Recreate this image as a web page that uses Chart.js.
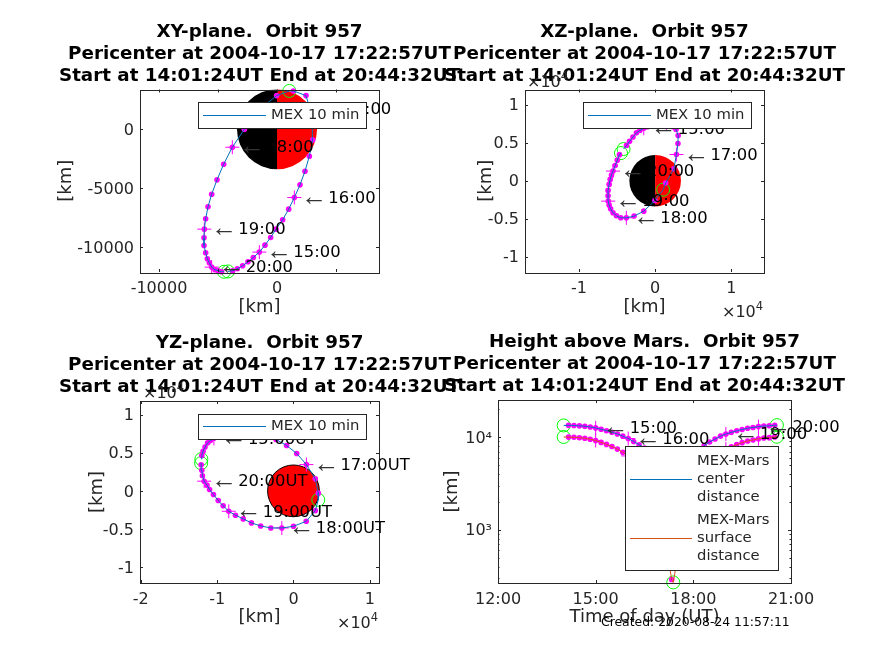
<!DOCTYPE html>
<html>
<head>
<meta charset="utf-8">
<title>MEX orbit 957</title>
<script src="https://cdn.jsdelivr.net/npm/chart.js@4"></script>
<style>
  html, body { margin: 0; padding: 0; background: #fff; }
  #page { position: relative; width: 874px; height: 655px; overflow: hidden; }
  canvas { position: absolute; }
</style>
</head>
<body>
<div id="page"></div>
<script>
// orbit samples (UT, km)
var orbitTimes = ['14:01','14:10','14:20','14:30','14:40','14:50','15:00','15:10','15:20','15:30','15:40','15:50',
  '16:00','16:10','16:20','16:30','16:40','16:50','17:00','17:10','17:20','17:23','17:30','17:40','17:50',
  '18:00','18:10','18:20','18:30','18:40','18:50','19:00','19:10','19:20','19:30','19:40','19:50',
  '20:00','20:10','20:20','20:30','20:34'];
var orbitX = [-4150,-3757,-3362,-2910,-2458,-2006,-1497,-1017,-537,-85,480,989,
  1469,1949,2373,2740,3023,2995,2797,2458,1384,1045,-28,-1497,-2769,
  -3786,-4520,-5085,-5537,-5848,-6046,-6159,-6187,-6187,-6046,-5904,-5735,
  -5537,-5255,-4972,-4690,-4490];
var orbitY = [-12063,-12006,-11837,-11582,-11243,-10876,-10424,-9831,-9181,-8475,-7684,-6780,
  -5791,-4718,-3559,-2288,-904,424,1695,2853,3249,3249,2853,1667,0,
  -1526,-2966,-4294,-5509,-6582,-7599,-8475,-9210,-9859,-10481,-10989,-11328,
  -11696,-11922,-12006,-12091,-12091];
var orbitZ = [4170,4650,5200,5750,6300,6600,6900,7100,7300,7500,7600,7650,
  7600,7400,7100,6750,5960,4900,3450,1580,-300,-1180,-2600,-4000,-4650,
  -4870,-4870,-4610,-4210,-3680,-3200,-2680,-1970,-1270,-480,180,750,
  1270,1990,2710,3430,3640];
var centerDist = [13387,13411,13358,13253,13120,12880,12591,12169,11743,11316,10818,10270,
  9666,8994,8288,7637,6743,5758,4753,4084,3680,3660,3860,4584,5410,
  6351,7274,8098,8872,9541,10224,10812,11269,11709,12113,12479,12719,
  13004,13178,13273,13450,13500];
var surfaceDist = [10050,10021,9968,9863,9730,9490,9201,8779,8353,7926,7428,6880,
  6276,5604,4898,4247,3353,2368,1363,694,290,270,470,1194,2020,
  2961,3884,4708,5482,6151,6834,7422,7879,8319,8723,9089,9329,
  9614,9788,9883,10060,10110];
var marsRadius = 3390;

// tick values and titles
var xyTicksX = [-10000,-5000,0,5000];
var xyLabelsX = ['-10000','','0',''];
var xyTicksY = [-10000,-5000,0];
var xzTicksX = [-10000,0,10000];
var xzTicksY = [-10000,-5000,0,5000,10000];
var yzTicksX = [-20000,-10000,0,10000];
var yzTicksY = [-10000,-5000,0,5000,10000];
var timeTicks = [12,15,18,21];
var heightTicks = [1000,10000];
var heightMinor = [300,400,500,600,700,800,900,2000,3000,4000,5000,6000,7000,8000,9000,20000];

var periLine = 'Pericenter at 2004-10-17 17:22:57UT';
var rangeLine = 'Start at 14:01:24UT End at 20:44:32UT';
var createdText = 'Created: 2020-08-24 11:57:11';

var FONT = '"DejaVu Sans", sans-serif';
var INK = '#262626';
var BLUE = '#0072BD';
var ORANGE = '#D95319';
var MAGENTA = '#FF00FF';
var LIME = '#00FF00';

function hourOf(t) {
  var p = t.split(':');
  return Number(p[0]) + Number(p[1]) / 60;
}
function minuteOf(t) {
  return Number(t.split(':')[1]);
}
function pairs(xs, ys, test) {
  var out = [];
  for (var i = 0; i < xs.length; i++) {
    if (test(orbitTimes[i])) out.push({ x: xs[i], y: ys[i] });
  }
  return out;
}
var all = function () { return true; };
var isDot = function (t) { return minuteOf(t) % 10 === 0; };
var isHour = function (t) { return minuteOf(t) === 0; };
var isEvent = function (t) { return minuteOf(t) % 10 !== 0; };

function orbitSets(xs, ys, color) {
  return [
    { data: pairs(xs, ys, all), showLine: true, borderColor: color, borderWidth: 1, pointRadius: 0 },
    { data: pairs(xs, ys, isDot), showLine: false, pointRadius: 2.8, backgroundColor: MAGENTA, borderWidth: 0, clip: false },
    { data: pairs(xs, ys, isHour), showLine: false, pointStyle: 'cross', pointRadius: 7, borderColor: MAGENTA, borderWidth: 1, clip: false },
    { data: pairs(xs, ys, isEvent), showLine: false, pointStyle: 'circle', pointRadius: 6.5, borderColor: LIME, backgroundColor: 'transparent', borderWidth: 1, clip: false }
  ];
}

function tenThousands(v) {
  return String(v / 10000);
}

function panelPlugin(cfg) {
  return {
    id: 'panel' + cfg.id,
    beforeDatasetsDraw: function (chart) {
      if (!cfg.mars) return;
      var ctx = chart.ctx, a = chart.chartArea;
      var sx = chart.scales.x, sy = chart.scales.y;
      var cx = sx.getPixelForValue(0), cy = sy.getPixelForValue(0);
      var r = sx.getPixelForValue(marsRadius) - cx;
      ctx.save();
      ctx.beginPath();
      ctx.rect(a.left, a.top, a.right - a.left, a.bottom - a.top);
      ctx.clip();
      if (cfg.mars === 'half') {
        ctx.fillStyle = '#000';
        ctx.beginPath();
        ctx.arc(cx, cy, r, Math.PI / 2, Math.PI * 1.5);
        ctx.fill();
        ctx.fillStyle = '#f00';
        ctx.beginPath();
        ctx.arc(cx, cy, r, -Math.PI / 2, Math.PI / 2);
        ctx.fill();
      } else {
        ctx.fillStyle = '#f00';
        ctx.strokeStyle = '#000';
        ctx.lineWidth = 1;
        ctx.beginPath();
        ctx.arc(cx, cy, r, 0, Math.PI * 2);
        ctx.fill();
        ctx.stroke();
      }
      ctx.restore();
    },
    afterDatasetsDraw: function (chart) {
      var ctx = chart.ctx, a = chart.chartArea;
      var sx = chart.scales.x, sy = chart.scales.y;
      ctx.save();

      // box and inward ticks on all four sides
      ctx.strokeStyle = INK;
      ctx.lineWidth = 1;
      ctx.strokeRect(Math.round(a.left) + 0.5, Math.round(a.top) + 0.5, Math.round(a.right - a.left), Math.round(a.bottom - a.top));
      function xTick(v, len) {
        var p = Math.round(sx.getPixelForValue(v)) + 0.5;
        ctx.beginPath();
        ctx.moveTo(p, a.bottom); ctx.lineTo(p, a.bottom - len);
        ctx.moveTo(p, a.top); ctx.lineTo(p, a.top + len);
        ctx.stroke();
      }
      function yTick(v, len) {
        var p = Math.round(sy.getPixelForValue(v)) + 0.5;
        ctx.beginPath();
        ctx.moveTo(a.left, p); ctx.lineTo(a.left + len, p);
        ctx.moveTo(a.right, p); ctx.lineTo(a.right - len, p);
        ctx.stroke();
      }
      cfg.xTicks.forEach(function (v) { xTick(v, 3); });
      cfg.yTicks.forEach(function (v) { yTick(v, 3); });
      (cfg.yMinor || []).forEach(function (v) { yTick(v, 1.5); });

      // hour labels: thin arrow, then the time
      ctx.textAlign = 'left';
      ctx.textBaseline = 'middle';
      var hourPts = pairs(cfg.xs, cfg.ys, isHour);
      var hourNames = orbitTimes.filter(isHour);
      hourPts.forEach(function (p, i) {
        var px = sx.getPixelForValue(p.x), py = sy.getPixelForValue(p.y);
        ctx.fillStyle = '#333';
        ctx.font = '26px "Liberation Sans", sans-serif';
        ctx.fillText('\u2190', px + 7, py);
        ctx.fillStyle = '#000';
        ctx.font = '16.4px ' + FONT;
        ctx.fillText(hourNames[i] + cfg.suffix, px + 34, py + 1);
      });

      // x10^4 exponents
      (cfg.exponents || []).forEach(function (e) {
        ctx.fillStyle = INK;
        ctx.font = '16px ' + FONT;
        ctx.textBaseline = 'alphabetic';
        ctx.fillText('\u00d710', e[0] - cfg.left, e[1] - cfg.top);
        var w = ctx.measureText('\u00d710').width;
        ctx.font = '11.5px ' + FONT;
        ctx.fillText('4', e[0] - cfg.left + w, e[1] - cfg.top - 7);
      });

      // legend box
      var L = cfg.legend;
      ctx.fillStyle = '#fff';
      ctx.fillRect(L.x - cfg.left, L.y - cfg.top, L.w, L.h);
      ctx.strokeStyle = INK;
      ctx.strokeRect(L.x - cfg.left + 0.5, L.y - cfg.top + 0.5, L.w, L.h);
      ctx.font = '14.8px ' + FONT;
      ctx.textBaseline = 'middle';
      L.entries.forEach(function (en) {
        ctx.strokeStyle = en.color;
        ctx.beginPath();
        ctx.moveTo(en.x1 - cfg.left, en.y - cfg.top + 0.5);
        ctx.lineTo(en.x2 - cfg.left, en.y - cfg.top + 0.5);
        ctx.stroke();
        ctx.fillStyle = INK;
        en.lines.forEach(function (s, k) {
          ctx.fillText(s, en.tx - cfg.left, en.y - cfg.top + (k - (en.lines.length - 1) / 2) * 18.3);
        });
      });

      if (cfg.created) {
        ctx.fillStyle = '#000';
        ctx.font = '12.4px ' + FONT;
        ctx.textBaseline = 'middle';
        ctx.fillText(createdText, cfg.created[0] - cfg.left, cfg.created[1] - cfg.top);
      }
      ctx.restore();
    }
  };
}

function axis(type, min, max, ticks, afterFit, labels, title, titleOffset, tickPad, labelShift) {
  return {
    type: type, min: min, max: max,
    grid: { display: false, drawTicks: false },
    border: { display: false },
    title: { display: true, text: title, color: INK, font: { family: FONT, size: 18 }, padding: { top: titleOffset, bottom: 0 } },
    ticks: { color: INK, font: { family: FONT, size: 16 }, padding: tickPad, labelOffset: labelShift, autoSkip: false, maxRotation: 0, minRotation: 0, callback: labels },
    afterBuildTicks: function (s) {
      s.ticks = ticks.map(function (v) { return { value: v }; });
    },
    afterFit: afterFit
  };
}

function makePanel(cfg) {
  var box = document.createElement('canvas');
  box.width = cfg.width;
  box.height = cfg.height;
  box.style.left = cfg.left + 'px';
  box.style.top = cfg.top + 'px';
  document.getElementById('page').appendChild(box);

  var half = 10.8;
  var yWidth = cfg.plot[0] - cfg.left;
  var rightWidth = cfg.left + cfg.width - cfg.plot[1];
  var xHeight = cfg.xTitleY + half - cfg.plot[3];
  var titleH = 68.5;

  new Chart(box, {
    type: 'scatter',
    data: { datasets: cfg.datasets },
    options: {
      responsive: false,
      animation: false,
      devicePixelRatio: 1,
      events: [],
      layout: {
        autoPadding: false,
        padding: {
          left: 0,
          right: 0,
          top: cfg.plot[2] - cfg.top - titleH,
          bottom: cfg.top + cfg.height - cfg.plot[3] - xHeight
        }
      },
      plugins: {
        legend: { display: false },
        tooltip: { enabled: false },
        title: {
          display: true,
          text: cfg.title,
          color: '#000',
          font: { family: FONT, size: 18.3, weight: 'bold', lineHeight: 22 / 18.3 },
          padding: { top: 0, bottom: 2.5 }
        }
      },
      scales: {
        x: axis(cfg.xType || 'linear', cfg.xMin, cfg.xMax, cfg.xTicks, function (s) { s.height = xHeight; }, cfg.xLabels, cfg.xTitle, 0, 7, 0),
        y: axis(cfg.yType || 'linear', cfg.yMin, cfg.yMax, cfg.yTicks.concat(cfg.yMinor || []), function (s) { s.width = yWidth; }, cfg.yLabels, cfg.yTitle, cfg.yTitleX - half - cfg.left, 6, 1.5),
        // empty scale that only holds the right margin, so the title stays centred on the canvas
        margin: {
          position: 'right', display: true, min: 0, max: 1,
          grid: { display: false, drawTicks: false },
          border: { display: false },
          ticks: { display: false },
          afterFit: function (s) { s.width = rightWidth; }
        }
      }
    },
    plugins: [panelPlugin(cfg)]
  });
}

makePanel({
  id: 1, left: 0, top: 0, width: 519, height: 327,
  plot: [140, 379, 89.5, 272], yTitleX: 66, xTitleY: 307,
  title: ['XY-plane.  Orbit 957', periLine, rangeLine],
  xMin: -11610, xMax: 8644, yMin: -12110, yMax: 3370,
  xTicks: xyTicksX, yTicks: xyTicksY,
  xLabels: function (v) { return xyLabelsX[xyTicksX.indexOf(v)]; },
  yLabels: function (v) { return String(v); },
  xTitle: '[km]', yTitle: '[km]',
  xs: orbitX, ys: orbitY, suffix: '', mars: 'half',
  datasets: orbitSets(orbitX, orbitY, BLUE),
  legend: { x: 198, y: 102, w: 168, h: 26, entries: [{ color: BLUE, x1: 203, x2: 266, tx: 271, y: 115, lines: ['MEX 10 min'] }] }
});

makePanel({
  id: 2, left: 415, top: 0, width: 459, height: 327,
  plot: [525, 764, 89.5, 272], yTitleX: 486, xTitleY: 307,
  title: ['XZ-plane.  Orbit 957', periLine, rangeLine],
  xMin: -17100, xMax: 14300, yMin: -12000, yMax: 12000,
  xTicks: xzTicksX, yTicks: xzTicksY,
  xLabels: tenThousands, yLabels: tenThousands,
  xTitle: '[km]', yTitle: '[km]',
  xs: orbitX, ys: orbitZ, suffix: '', mars: 'half',
  datasets: orbitSets(orbitX, orbitZ, BLUE),
  exponents: [[527, 87], [722, 317]],
  legend: { x: 583, y: 102, w: 168, h: 26, entries: [{ color: BLUE, x1: 588, x2: 651, tx: 656, y: 115, lines: ['MEX 10 min'] }] }
});

makePanel({
  id: 3, left: 0, top: 327, width: 519, height: 328,
  plot: [140, 379, 401, 583], yTitleX: 97, xTitleY: 617,
  title: ['YZ-plane.  Orbit 957', periLine, rangeLine],
  xMin: -20100, xMax: 11200, yMin: -12100, yMax: 11800,
  xTicks: yzTicksX, yTicks: yzTicksY,
  xLabels: tenThousands, yLabels: tenThousands,
  xTitle: '[km]', yTitle: '[km]',
  xs: orbitY, ys: orbitZ, suffix: 'UT', mars: 'full',
  datasets: orbitSets(orbitY, orbitZ, BLUE),
  exponents: [[143, 398], [337, 628]],
  legend: { x: 198, y: 414, w: 168, h: 25, entries: [{ color: BLUE, x1: 203, x2: 266, tx: 271, y: 426, lines: ['MEX 10 min'] }] }
});

var orbitHours = orbitTimes.map(hourOf);
makePanel({
  id: 4, left: 415, top: 327, width: 459, height: 328,
  plot: [498, 791, 400, 583], yTitleX: 452, xTitleY: 617,
  title: ['Height above Mars.  Orbit 957', periLine, rangeLine],
  xMin: 12, xMax: 21, yMin: 266, yMax: 25200, yType: 'logarithmic',
  xTicks: timeTicks, yTicks: heightTicks, yMinor: heightMinor,
  xLabels: function (v) { return v + ':00'; },
  yLabels: function (v) { return v === 1000 ? '10\u00b3' : v === 10000 ? '10\u2074' : ''; },
  xTitle: 'Time of day (UT)', yTitle: '[km]',
  xs: orbitHours, ys: centerDist, suffix: '',
  datasets: orbitSets(orbitHours, centerDist, BLUE).concat(orbitSets(orbitHours, surfaceDist, ORANGE)),
  legend: { x: 625, y: 446, w: 153, h: 124, entries: [
    { color: BLUE, x1: 630, x2: 692, tx: 697, y: 479, lines: ['MEX-Mars', 'center', 'distance'] },
    { color: ORANGE, x1: 630, x2: 692, tx: 697, y: 538, lines: ['MEX-Mars', 'surface', 'distance'] }
  ] },
  created: [601, 623]
});
</script>
</body>
</html>
